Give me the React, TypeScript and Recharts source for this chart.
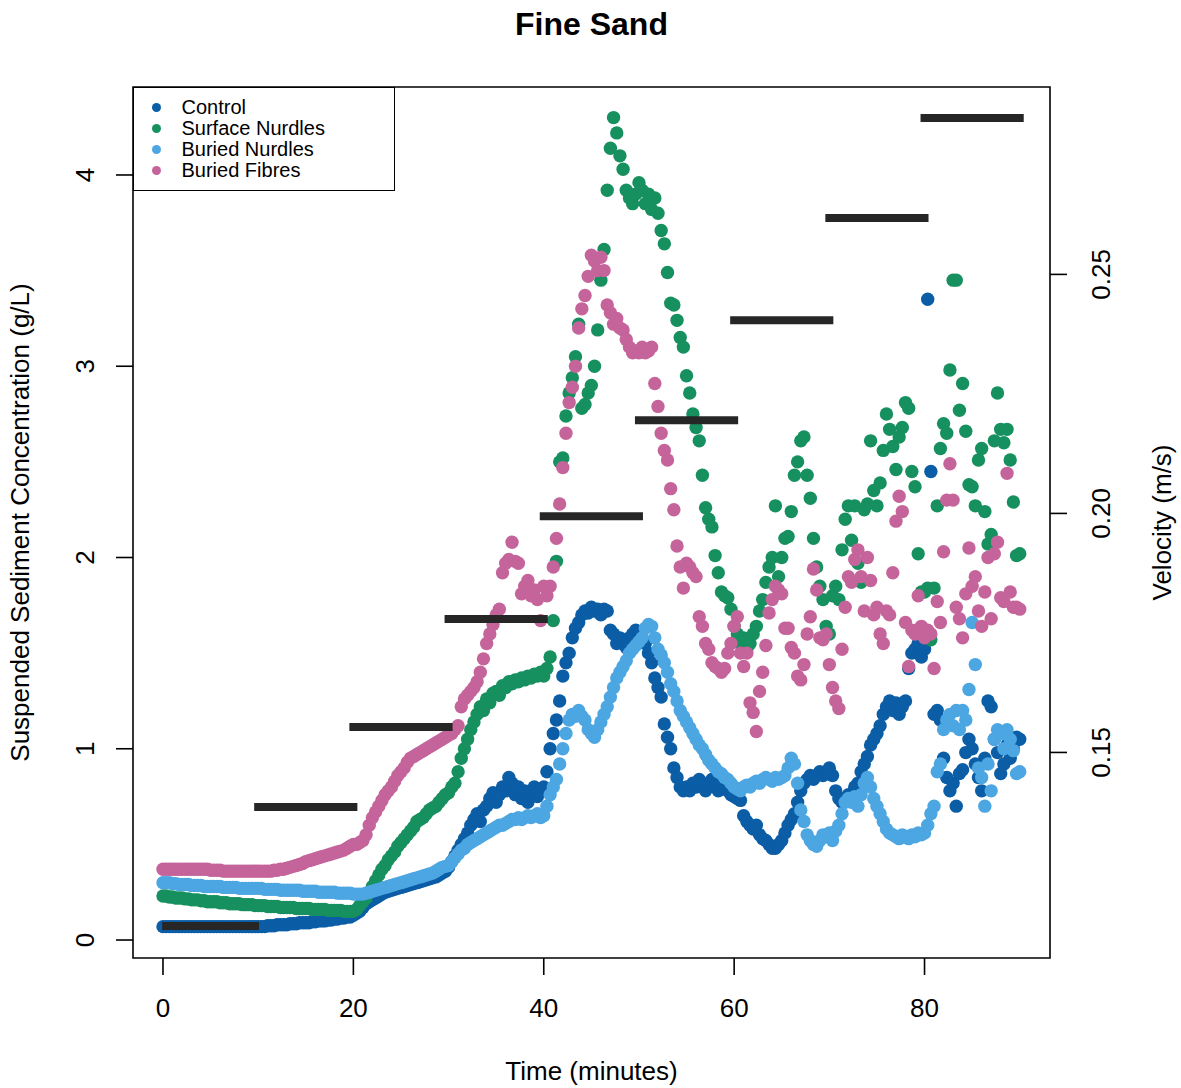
import React from 'react';
import { ComposedChart, Scatter, XAxis, YAxis, ReferenceArea, Legend, Label } from 'recharts';

const FONT = '"Liberation Sans", Arial, Helvetica, sans-serif';

// one sample every 20 seconds, starting at t = 0 min
const SAMPLE_MINUTES = 1 / 3;

// Suspended sediment concentration (g/L)
const CONTROL = [
  0.07, 0.07, 0.07, 0.07, 0.07, 0.07, 0.07, 0.07, 0.07, 0.07, 0.07, 0.07, 0.07, 0.07, 0.07,
  0.07, 0.07, 0.07, 0.07, 0.07, 0.07, 0.07, 0.07, 0.07, 0.07, 0.07, 0.07, 0.07, 0.07, 0.07,
  0.07, 0.07, 0.07, 0.075, 0.075, 0.075, 0.08, 0.08, 0.08, 0.08, 0.085, 0.085, 0.085, 0.09, 0.09,
  0.09, 0.09, 0.095, 0.095, 0.1, 0.1, 0.1, 0.105, 0.105, 0.11, 0.11, 0.115, 0.115, 0.12, 0.12,
  0.13, 0.14, 0.15, 0.17, 0.19, 0.2, 0.21, 0.22, 0.23, 0.24, 0.25, 0.255, 0.26, 0.265, 0.27,
  0.275, 0.28, 0.285, 0.29, 0.295, 0.3, 0.305, 0.31, 0.315, 0.32, 0.325, 0.33, 0.34, 0.35, 0.36,
  0.38, 0.41, 0.44, 0.47, 0.5, 0.53, 0.56, 0.6, 0.63, 0.66, 0.62, 0.68, 0.7, 0.74, 0.77,
  0.72, 0.76, 0.8, 0.78, 0.85, 0.82, 0.76, 0.8, 0.74, 0.78, 0.72, 0.76, 0.8, 0.75, 0.78,
  0.8, 0.88, 1.0, 1.08, 1.15, 1.25, 1.38, 1.45, 1.5, 1.58, 1.63, 1.66, 1.7, 1.72, 1.71,
  1.74, 1.72, 1.73, 1.7, 1.73, 1.72, 1.62, 1.6, 1.55, 1.58, 1.56, 1.53, 1.58, 1.6, 1.62,
  1.6, 1.58, 1.55, 1.5, 1.45, 1.37, 1.32, 1.27, 1.13, 1.06, 1.0, 0.9, 0.85, 0.8, 0.78,
  0.8, 0.78, 0.82, 0.8, 0.84, 0.8, 0.78, 0.82, 0.84, 0.8, 0.78, 0.82, 0.8, 0.78, 0.76,
  0.75, 0.74, 0.73, 0.65, 0.62, 0.6, 0.58, 0.6, 0.55, 0.53, 0.52, 0.5, 0.48, 0.48, 0.5,
  0.52, 0.56, 0.6, 0.63, 0.66, 0.72, 0.78, 0.82, 0.84, 0.86, 0.84, 0.86, 0.88, 0.86, 0.88,
  0.9, 0.86, 0.78, 0.74, 0.72, 0.74, 0.76, 0.75, 0.8, 0.82, 0.88, 0.92, 0.96, 1.02, 1.05,
  1.08, 1.12, 1.18, 1.22, 1.25, 1.2, 1.24, 1.18, 1.22, 1.25, 1.42, 1.5, 1.52, 1.55, 1.48,
  1.52, 3.35, 2.45, 1.18, 1.2, 1.15, 0.95, 0.85, 0.78, 0.82, 0.7, 0.87, 0.89, 0.98, 1.05,
  1.0, 0.92, 0.85, 0.78, 0.95, 1.25, 1.22, 1.05, 0.98, 0.87, 0.92, 1.02, 0.95, 1.0, 1.06,
  1.05,
];

const SURFACE_NURDLES = [
  0.23, 0.23, 0.225, 0.225, 0.22, 0.22, 0.22, 0.215, 0.215, 0.21, 0.21, 0.21, 0.205, 0.205, 0.2,
  0.2, 0.2, 0.2, 0.195, 0.195, 0.195, 0.19, 0.19, 0.19, 0.19, 0.185, 0.185, 0.185, 0.185, 0.18,
  0.18, 0.18, 0.18, 0.175, 0.175, 0.175, 0.175, 0.17, 0.17, 0.17, 0.17, 0.17, 0.165, 0.165, 0.165,
  0.165, 0.165, 0.16, 0.16, 0.16, 0.16, 0.16, 0.155, 0.155, 0.155, 0.155, 0.155, 0.15, 0.15, 0.15,
  0.15, 0.16, 0.18, 0.2, 0.22, 0.25, 0.28, 0.31, 0.34, 0.37, 0.39, 0.42, 0.44, 0.46, 0.49,
  0.51, 0.53, 0.55, 0.57, 0.59, 0.62, 0.63, 0.64, 0.66, 0.68, 0.69, 0.7, 0.72, 0.74, 0.76,
  0.77, 0.8, 0.82, 0.88, 0.95, 1.0, 1.05, 1.1, 1.14, 1.18, 1.22, 1.2, 1.26, 1.24, 1.29,
  1.3, 1.28, 1.33, 1.32, 1.35, 1.34, 1.36, 1.35, 1.37, 1.36, 1.38, 1.37, 1.39, 1.38, 1.4,
  1.38, 1.42, 1.48, 1.67, 1.98, 2.5, 2.52, 2.74, 2.86, 2.94, 3.05, 3.22, 2.78, 2.8, 2.86,
  2.9, 3.0, 3.19, 3.45, 3.61, 3.92, 4.14, 4.3, 4.22, 4.1, 4.03, 3.92, 3.88, 3.85, 3.9,
  3.96, 3.92, 3.85, 3.9, 3.82, 3.88, 3.8, 3.71, 3.64, 3.49, 3.33, 3.32, 3.24, 3.15, 3.1,
  2.95, 2.86, 2.75, 2.68, 2.61, 2.43, 2.26, 2.2, 2.16, 2.01, 1.92, 1.82, 1.8, 1.79, 1.73,
  1.64, 1.6, 1.55, 1.58, 1.52, 1.55, 1.6, 1.64, 1.72, 1.78, 1.87, 1.95, 2.0, 2.27, 1.9,
  2.0, 2.1, 2.11, 2.24, 2.43, 2.5, 2.61, 2.63, 2.43, 2.31, 2.1, 1.95, 1.85, 1.78, 1.64,
  1.6, 1.8, 1.85, 1.78, 2.04, 2.2, 2.27, 2.09, 2.27, 1.97, 1.87, 2.25, 2.28, 2.61, 2.35,
  2.27, 2.39, 2.56, 2.75, 2.67, 2.58, 2.46, 2.63, 2.68, 2.81, 2.78, 2.45, 2.37, 2.02, 1.82,
  1.82, 1.84, 1.57, 1.84, 2.27, 2.57, 2.7, 2.65, 2.98, 3.45, 3.45, 2.77, 2.91, 2.66, 2.38,
  2.37, 2.27, 2.51, 2.57, 2.24, 2.07, 2.12, 2.61, 2.86, 2.67, 2.6, 2.67, 2.51, 2.29, 2.01,
  2.02,
];

const BURIED_NURDLES = [
  0.3, 0.3, 0.3, 0.295, 0.295, 0.29, 0.29, 0.29, 0.29, 0.285, 0.285, 0.285, 0.285, 0.28, 0.28,
  0.28, 0.28, 0.28, 0.28, 0.275, 0.275, 0.275, 0.275, 0.275, 0.27, 0.27, 0.27, 0.27, 0.27, 0.27,
  0.27, 0.27, 0.265, 0.265, 0.265, 0.265, 0.265, 0.26, 0.26, 0.26, 0.26, 0.26, 0.26, 0.26, 0.255,
  0.255, 0.255, 0.255, 0.255, 0.25, 0.25, 0.25, 0.25, 0.25, 0.25, 0.245, 0.245, 0.245, 0.245, 0.245,
  0.24, 0.24, 0.24, 0.24, 0.245, 0.25, 0.255, 0.26, 0.265, 0.27, 0.275, 0.28, 0.285, 0.29, 0.295,
  0.3, 0.305, 0.31, 0.315, 0.32, 0.325, 0.33, 0.335, 0.34, 0.345, 0.35, 0.36, 0.37, 0.38, 0.385,
  0.39, 0.41, 0.43, 0.45, 0.47, 0.48, 0.5, 0.51, 0.52, 0.53, 0.54, 0.55, 0.56, 0.57, 0.58,
  0.59, 0.6, 0.6, 0.61, 0.62, 0.63, 0.63, 0.64, 0.63, 0.64, 0.65, 0.64, 0.65, 0.66, 0.64,
  0.65, 0.7, 0.76, 0.8, 0.84, 0.92, 1.0, 1.08, 1.15, 1.18, 1.17, 1.2, 1.17, 1.15, 1.1,
  1.08, 1.06, 1.1, 1.14, 1.18, 1.22, 1.27, 1.32, 1.37, 1.4, 1.43, 1.46, 1.5, 1.52, 1.54,
  1.56, 1.58, 1.63, 1.65, 1.64, 1.58, 1.52, 1.49, 1.45, 1.4, 1.34, 1.3, 1.25, 1.2, 1.17,
  1.14, 1.11, 1.08, 1.05, 1.02, 1.0, 0.97, 0.94, 0.92, 0.9, 0.88, 0.87, 0.85, 0.84, 0.82,
  0.8, 0.79, 0.78, 0.8, 0.81, 0.8, 0.82, 0.83, 0.82, 0.84, 0.85, 0.84, 0.83, 0.85, 0.84,
  0.85, 0.86, 0.9, 0.95, 0.92, 0.82, 0.68, 0.62, 0.55, 0.52, 0.5, 0.49, 0.52, 0.55, 0.54,
  0.56, 0.52, 0.57, 0.6, 0.66, 0.72, 0.74, 0.72, 0.75, 0.7, 0.76, 0.82, 0.85, 0.8, 0.74,
  0.7, 0.66, 0.62, 0.58, 0.56, 0.55, 0.54, 0.53, 0.55, 0.54, 0.53, 0.55, 0.54, 0.56, 0.55,
  0.56, 0.6, 0.66, 0.7, 0.88, 0.92, 1.1, 1.15, 1.18, 1.12, 1.2, 1.1, 1.2, 1.15, 1.31,
  1.66, 1.44, 0.9, 0.85, 0.7, 0.92, 0.78, 1.05, 1.1, 1.08, 1.0, 1.1, 1.05, 0.99, 0.87,
  0.88,
];

const BURIED_FIBRES = [
  0.37, 0.37, 0.37, 0.37, 0.37, 0.37, 0.37, 0.37, 0.37, 0.37, 0.37, 0.37, 0.37, 0.37, 0.37,
  0.365, 0.365, 0.365, 0.365, 0.36, 0.36, 0.36, 0.36, 0.36, 0.36, 0.36, 0.36, 0.36, 0.36, 0.36,
  0.36, 0.36, 0.36, 0.36, 0.36, 0.365, 0.365, 0.37, 0.37, 0.375, 0.38, 0.385, 0.39, 0.395, 0.4,
  0.41, 0.415, 0.42, 0.425, 0.43, 0.435, 0.44, 0.445, 0.45, 0.455, 0.46, 0.465, 0.47, 0.48, 0.49,
  0.5, 0.5, 0.51, 0.52, 0.55, 0.6, 0.64, 0.67, 0.7, 0.73, 0.76, 0.78, 0.8, 0.83, 0.86,
  0.88, 0.9, 0.93, 0.95, 0.96, 0.97, 0.98, 0.99, 1.0, 1.01, 1.02, 1.03, 1.04, 1.05, 1.06,
  1.07, 1.08, 1.1, 1.12, 1.22, 1.26, 1.28, 1.3, 1.32, 1.35, 1.4, 1.47, 1.55, 1.6, 1.65,
  1.7, 1.73, 1.92, 1.97, 1.99, 2.08, 1.98, 1.97, 1.81, 1.85, 1.88, 1.8, 1.83, 1.78, 1.67,
  1.85, 1.8, 1.85, 1.95, 2.1, 2.28, 2.47, 2.65, 2.81, 2.89, 3.0, 3.2, 3.3, 3.37, 3.47,
  3.58, 3.55, 3.5, 3.57, 3.5, 3.32, 3.28, 3.22, 3.25, 3.2, 3.19, 3.14, 3.1, 3.07, 3.08,
  3.07, 3.1, 3.07, 3.08, 3.1, 2.91, 2.79, 2.65, 2.56, 2.51, 2.36, 2.25, 2.06, 1.95, 1.84,
  1.97, 1.95, 1.92, 1.9, 1.69, 1.64, 1.55, 1.52, 1.45, 1.43, 1.42, 1.4, 1.42, 1.5, 1.55,
  1.64, 1.69, 1.5, 1.43, 1.5, 1.24, 1.19, 1.09, 1.3, 1.4, 1.54, 1.71, 1.78, 1.85, 1.83,
  1.81, 1.63, 1.63, 1.53, 1.5, 1.38, 1.36, 1.44, 1.6, 1.69, 1.94, 1.83, 1.58, 1.57, 1.6,
  1.44, 1.32, 1.25, 1.21, 1.52, 1.74, 1.9, 1.87, 1.99, 2.04, 1.9, 1.72, 2.0, 1.88, 1.7,
  1.74, 1.6, 1.55, 1.72, 1.7, 1.92, 2.19, 2.32, 2.24, 1.66, 1.43, 1.62, 1.6, 1.8, 1.64,
  1.58, 1.62, 1.6, 1.42, 1.77, 1.66, 2.03, 2.3, 2.49, 2.3, 1.74, 1.68, 1.58, 1.81, 2.05,
  1.85, 1.9, 1.72, 1.64, 1.82, 2.0, 1.68, 2.02, 2.08, 1.79, 1.77, 2.44, 1.82, 1.74, 1.74,
  1.73,
];

// Flume velocity steps (m/s)
const VELOCITY_LEVELS = [0.1137, 0.1386, 0.1553, 0.1779, 0.1994, 0.2195, 0.2404, 0.2618, 0.2827];
const VELOCITY_START = [0.33, 10, 20, 30, 40, 50, 60, 70, 80];
const VELOCITY_END = [9.67, 20, 30, 40, 50, 60, 70, 80, 90];

const X_TICKS = [0, 20, 40, 60, 80];
const Y_TICKS = [0, 1, 2, 3, 4];
const V_TICKS = [0.15, 0.2, 0.25];

const X_DOMAIN: [number, number] = [-3.15, 93.18];
const Y_DOMAIN: [number, number] = [-0.094, 4.46];
const V_DOMAIN: [number, number] = [0.107, 0.2892];

const SERIES = [
  { name: 'Control', color: '#0B5DA6', values: CONTROL },
  { name: 'Surface Nurdles', color: '#17905F', values: SURFACE_NURDLES },
  { name: 'Buried Nurdles', color: '#4CA6E2', values: BURIED_NURDLES },
  { name: 'Buried Fibres', color: '#C4649B', values: BURIED_FIBRES },
];

const toPoints = (vals: number[]) => vals.map((c, i) => ({ t: i * SAMPLE_MINUTES, c }));

const makeDot = (color: string) => (props: any) =>
  props.cx == null ? <g /> : <circle cx={props.cx} cy={props.cy} r={6.7} fill={color} />;

const NoDot = () => <g />;

const textStyle = { fontFamily: FONT, fontSize: 26, fill: '#000' };

const XTick = (props: any) => {
  const { x, y, payload } = props;
  return (
    <text x={x} y={y + 41.5} textAnchor="middle" {...textStyle}>
      {String(payload.value)}
    </text>
  );
};

const LTick = (props: any) => {
  const { x, y, payload } = props;
  const bx = x - 21.7;
  return (
    <text x={bx} y={y} transform={`rotate(-90, ${bx}, ${y})`} textAnchor="middle" {...textStyle}>
      {String(payload.value)}
    </text>
  );
};

const RTick = (props: any) => {
  const { x, y, payload } = props;
  const bx = x + 43;
  return (
    <text x={bx} y={y} transform={`rotate(-90, ${bx}, ${y})`} textAnchor="middle" {...textStyle}>
      {Number(payload.value).toFixed(2)}
    </text>
  );
};

const XTitle = (props: any) => {
  const vb = props.viewBox || { x: 133, y: 958, width: 917, height: 80 };
  return (
    <text x={vb.x + vb.width / 2} y={vb.y + 122} textAnchor="middle" {...textStyle}>
      Time (minutes)
    </text>
  );
};

const LTitle = (props: any) => {
  const vb = props.viewBox || { x: 53, y: 87, width: 80, height: 871 };
  const bx = vb.x - 24;
  const cy = vb.y + vb.height / 2;
  return (
    <text x={bx} y={cy} transform={`rotate(-90, ${bx}, ${cy})`} textAnchor="middle" {...textStyle}>
      Suspended Sediment Concentration (g/L)
    </text>
  );
};

const RTitle = (props: any) => {
  const vb = props.viewBox || { x: 1050, y: 87, width: 80, height: 871 };
  const bx = vb.x + 121;
  const cy = vb.y + vb.height / 2;
  return (
    <text x={bx} y={cy} transform={`rotate(-90, ${bx}, ${cy})`} textAnchor="middle" {...textStyle}>
      Velocity (m/s)
    </text>
  );
};

const LegendBox = (props: any) => {
  const payload = (props && props.payload) || [];
  const items = SERIES.filter((s) => payload.length === 0 || payload.some((p: any) => p.value === s.name));
  const list = items.length ? items : SERIES;
  return (
    <div
      style={{
        width: 262,
        height: 104,
        border: '1.6px solid #000',
        boxSizing: 'border-box',
        position: 'relative',
        background: '#fff',
        fontFamily: FONT,
        fontSize: 20,
        color: '#000',
      }}
    >
      {list.map((s, i) => (
        <div
          key={s.name}
          style={{ position: 'absolute', left: 0, top: 8.9 + 21 * i, height: 21, lineHeight: '21px', width: '100%', whiteSpace: 'nowrap' }}
        >
          <span
            style={{ position: 'absolute', left: 17.9, top: 6, width: 9, height: 9, borderRadius: '50%', background: s.color }}
          />
          <span style={{ position: 'absolute', left: 47.5, top: 0 }}>{s.name}</span>
        </div>
      ))}
    </div>
  );
};

export default function App() {
  return (
    <div style={{ position: 'absolute', left: 0, top: 0, width: 1181, height: 1088, background: '#fff' }}>
      <ComposedChart width={1181} height={1088} margin={{ top: 87, right: 51, bottom: 50, left: 53 }}>
        <XAxis
          xAxisId="x"
          dataKey="t"
          type="number"
          domain={X_DOMAIN}
          ticks={X_TICKS}
          allowDataOverflow
          interval={0}
          axisLine={false}
          tickLine={{ stroke: '#000', strokeWidth: 1.6 }}
          tickSize={17}
          tickMargin={0}
          height={80}
          tick={XTick}
        >
          <Label content={XTitle} />
        </XAxis>
        <YAxis
          yAxisId="left"
          dataKey="c"
          type="number"
          domain={Y_DOMAIN}
          ticks={Y_TICKS}
          allowDataOverflow
          interval={0}
          axisLine={false}
          tickLine={{ stroke: '#000', strokeWidth: 1.6 }}
          tickSize={17}
          tickMargin={0}
          width={80}
          tick={LTick}
        >
          <Label content={LTitle} />
        </YAxis>
        <YAxis
          yAxisId="right"
          orientation="right"
          dataKey="v"
          type="number"
          domain={V_DOMAIN}
          ticks={V_TICKS}
          allowDataOverflow
          interval={0}
          axisLine={false}
          tickLine={{ stroke: '#000', strokeWidth: 1.6 }}
          tickSize={17}
          tickMargin={0}
          width={80}
          tick={RTick}
        >
          <Label content={RTitle} />
        </YAxis>
        <ReferenceArea
          xAxisId="x"
          yAxisId="left"
          x1={X_DOMAIN[0]}
          x2={X_DOMAIN[1]}
          y1={Y_DOMAIN[0]}
          y2={Y_DOMAIN[1]}
          fill="none"
          fillOpacity={0}
          stroke="#000"
          strokeWidth={1.6}
          ifOverflow="visible"
        />
        {SERIES.map((s) => (
          <Scatter
            key={s.name}
            name={s.name}
            data={toPoints(s.values)}
            xAxisId="x"
            yAxisId="left"
            fill={s.color}
            shape={makeDot(s.color)}
            isAnimationActive={false}
          />
        ))}
        {VELOCITY_LEVELS.map((v, i) => (
          <Scatter
            key={`vel-${i}`}
            name={`velocity-${i}`}
            data={[
              { t: VELOCITY_START[i], v },
              { t: VELOCITY_END[i], v },
            ]}
            xAxisId="x"
            yAxisId="right"
            fill="#262626"
            line={{ stroke: '#262626', strokeWidth: 8, strokeLinecap: 'square' }}
            shape={NoDot}
            legendType="none"
            isAnimationActive={false}
          />
        ))}
        <Legend
          content={LegendBox}
          layout="horizontal"
          verticalAlign="middle"
          align="center"
          wrapperStyle={{ left: 133, top: 87, width: 262, height: 104, margin: 0, padding: 0 }}
        />
      </ComposedChart>
      <div
        style={{
          position: 'absolute',
          left: 133,
          top: 6,
          width: 917,
          textAlign: 'center',
          fontFamily: FONT,
          fontWeight: 'bold',
          fontSize: 32,
          lineHeight: '36px',
          color: '#000',
        }}
      >
        Fine Sand
      </div>
    </div>
  );
}
